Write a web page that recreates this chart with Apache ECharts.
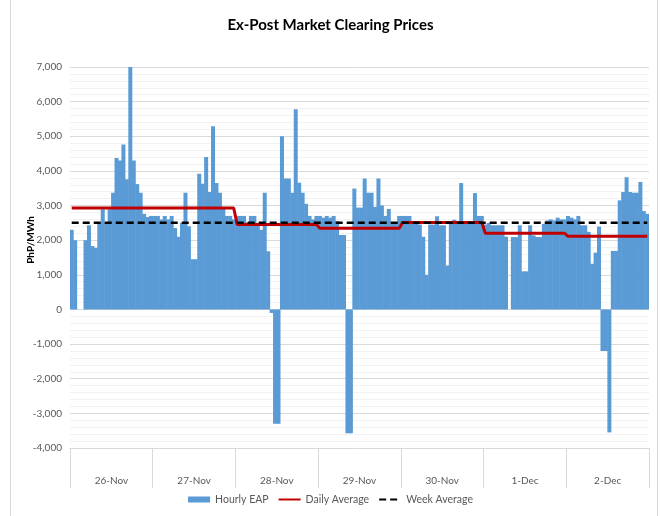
<!DOCTYPE html>
<html>
<head>
<meta charset="utf-8">
<script src="https://cdn.jsdelivr.net/npm/echarts@6/dist/echarts.min.js"></script>
<style>html,body{margin:0;padding:0;background:#fff}#c{width:661px;height:516px}</style>
</head>
<body>
<div id="c"></div>
<script>
const days = ['26-Nov','27-Nov','28-Nov','29-Nov','30-Nov','1-Dec','2-Dec'];
const eap26Nov = [2300,2000,0,0,2000,2430,1830,1780,2500,2890,2500,2890,3370,4370,4300,4760,3760,7000,4300,3620,3370,2760,2670,2700];
const eap27Nov = [2700,2700,2600,2700,2600,2700,2350,2100,2500,3370,2400,1450,1450,3920,3630,4400,3390,5290,3650,3370,2910,2700,2700,2600];
const eap28Nov = [2700,2700,2700,2520,2700,2700,2500,2300,3370,1680,-100,-3300,-3300,5000,3780,3780,3370,5780,3660,3370,3050,2700,2600,2700];
const eap29Nov = [2700,2650,2700,2650,2700,2550,2150,2150,-3575,-3575,3490,2940,2940,3780,3370,3370,2960,3780,3000,2700,2900,2520,2520,2700];
const eap30Nov = [2700,2700,2700,2500,2500,2450,2100,1000,2450,2450,2690,2430,2430,1270,2480,2590,2480,3650,2480,2480,2480,3360,2700,2700];
const eap1Dec  = [2450,2500,2430,2430,2430,2430,2100,0,2090,2090,2430,1100,1100,2430,2140,2090,2090,2470,2570,2600,2570,2650,2600,2600];
const eap2Dec  = [2700,2650,2600,2700,2430,2430,2240,1320,1640,2390,-1200,-1200,-3550,1690,1690,3150,3390,3820,3390,3370,3370,3680,2840,2760];
const dailyAverage = [2930,2930,2455,2345,2510,2200,2110];
const weekAverage = 2500;

const hourly = [eap26Nov,eap27Nov,eap28Nov,eap29Nov,eap30Nov,eap1Dec,eap2Dec];
const hourLabels = [], hourValues = [], dailyLine = [], weekLine = [];
days.forEach((d, di) => {
  hourly[di].forEach((v, h) => {
    hourLabels.push(d + ' ' + (h + 1));
    hourValues.push(v);
    dailyLine.push(dailyAverage[di]);
    weekLine.push(weekAverage);
  });
});

const FONT = 'Lato';
const chart = echarts.init(document.getElementById('c'), null, {renderer: 'canvas'});
chart.setOption({
  animation: false,
  backgroundColor: '#fff',
  textStyle: {fontFamily: FONT},
  title: {
    text: 'Ex-Post Market Clearing Prices',
    left: 'center', top: 13,
    textStyle: {fontFamily: FONT, fontSize: 15, fontWeight: 'bold', color: '#000'}
  },
  grid: {left: 70, right: 12, top: 67, bottom: 68},
  xAxis: {
    type: 'category',
    data: hourLabels,
    boundaryGap: true,
    axisLine: {show: true, onZero: false, lineStyle: {color: '#d9d9d9'}},
    axisTick: {show: true, length: 40, interval: (i) => i % 24 === 0, lineStyle: {color: '#d9d9d9'}},
    axisLabel: {
      interval: (i) => i % 24 === 12,
      formatter: (v) => v.split(' ')[0],
      margin: 28, fontSize: 10, color: '#595959', fontFamily: FONT,
      padding: [0, 3.4, 0, 0]
    },
    splitLine: {show: false}
  },
  yAxis: {
    type: 'value', min: -4000, max: 7000, interval: 1000,
    axisLine: {show: false}, axisTick: {show: false},
    axisLabel: {formatter: (v) => v.toLocaleString('en-US'), fontSize: 10, color: '#595959', margin: 8, fontFamily: FONT},
    splitLine: {lineStyle: {color: '#d9d9d9'}},
    minorTick: {show: false, splitNumber: 5},
    minorSplitLine: {show: true, lineStyle: {color: '#f2f2f2'}}
  },
  legend: {
    bottom: 6, left: 'center', itemWidth: 22, itemHeight: 6, itemGap: 9,
    textStyle: {fontSize: 10.5, color: '#595959', fontFamily: FONT},
    data: [
      {name: 'Hourly EAP', icon: 'rect'},
      {name: 'Daily Average', itemStyle: {opacity: 0}},
      {name: 'Week Average', itemStyle: {opacity: 0}}
    ]
  },
  graphic: [
    {type: 'line', shape: {x1: 10.5, y1: 0, x2: 10.5, y2: 516}, style: {stroke: '#d9d9d9', lineWidth: 1}},
    {type: 'line', shape: {x1: 657.5, y1: 0, x2: 657.5, y2: 516}, style: {stroke: '#d9d9d9', lineWidth: 1}},
    {type: 'text', x: 31, y: 240, rotation: Math.PI / 2,
     style: {text: 'PhP/MWh', fontFamily: FONT, fontSize: 10, fontWeight: 'bold', fill: '#000', align: 'center', verticalAlign: 'middle'}}
  ],
  series: [
    {name: 'Hourly EAP', type: 'bar', data: hourValues, barWidth: 4,
     itemStyle: {color: '#5b9bd5'}},
    {name: 'Daily Average', type: 'line', data: dailyLine, symbol: 'none',
     lineStyle: {color: '#c00000', width: 3}, itemStyle: {color: '#c00000'}},
    {name: 'Week Average', type: 'line', data: weekLine, symbol: 'none',
     lineStyle: {color: '#000', width: 2.5, type: [7, 4]}, itemStyle: {color: '#000'}}
  ]
});
</script>
</body>
</html>
